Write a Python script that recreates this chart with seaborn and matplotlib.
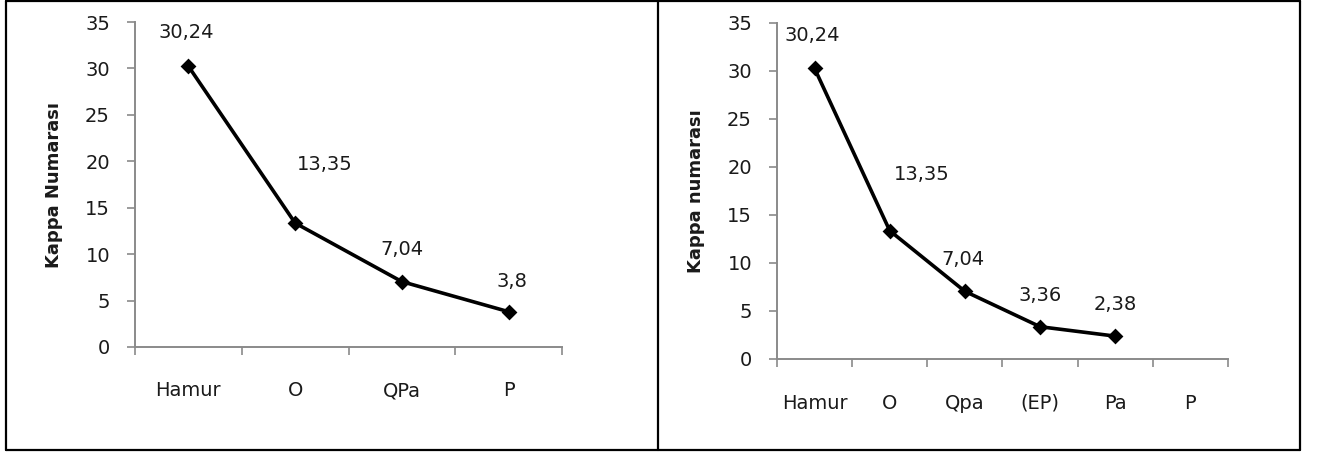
import matplotlib
matplotlib.use("Agg")
import matplotlib.pyplot as plt
from matplotlib.lines import Line2D
from matplotlib.ticker import FixedLocator, NullFormatter
import seaborn as sns
import pandas as pd

# Kappa number after each bleaching stage
left_stages = ["Hamur", "O", "QPa", "P"]
left_kappa = [30.24, 13.35, 7.04, 3.8]
left_labels = ["30,24", "13,35", "7,04", "3,8"]

right_stages = ["Hamur", "O", "Qpa", "(EP)", "Pa", "P"]
right_measured = ["Hamur", "O", "Qpa", "(EP)", "Pa"]
right_kappa = [30.24, 13.35, 7.04, 3.36, 2.38]
right_labels = ["30,24", "13,35", "7,04", "3,36", "2,38"]

y_ticks = [0, 5, 10, 15, 20, 25, 30, 35]

sns.set_theme(style="white")
plt.rcParams["font.family"] = ["DejaVu Sans"]

W, H = 1317, 454
fig = plt.figure(figsize=(W / 100, H / 100), dpi=100)

TEXT = "#1a1a1a"
AXIS = "#8a8a8a"


def px_rect(x0, x1, y_top, y_bot):
    return [x0 / W, 1 - y_bot / H, (x1 - x0) / W, (y_bot - y_top) / H]


def panel(rect, stages, measured, kappa, labels, ylabel, offsets, xpad):
    ax = fig.add_axes(rect)
    df = pd.DataFrame({"stage": measured, "kappa": kappa})
    sns.pointplot(data=df, x="stage", y="kappa", order=stages, color="black",
                  markers="D", linestyles="-", errorbar=None,
                  markersize=6, linewidth=2.6, ax=ax)
    n = len(stages)
    ax.set_xlim(-0.5, n - 0.5)
    ax.set_ylim(0, 35)
    ax.set_yticks(y_ticks)
    ax.set_yticklabels([str(v) for v in y_ticks])
    ax.set_xticks(range(n))
    ax.set_xticklabels(stages)
    ax.xaxis.set_minor_locator(FixedLocator([i - 0.5 for i in range(n + 1)]))
    ax.xaxis.set_minor_formatter(NullFormatter())
    ax.tick_params(axis="x", which="major", length=0, pad=xpad,
                   labelsize=14, labelcolor=TEXT)
    ax.tick_params(axis="x", which="minor", bottom=True, length=6,
                   width=1.2, color=AXIS, direction="out")
    ax.tick_params(axis="y", left=True, length=6, width=1.2, color=AXIS,
                   direction="out", pad=12, labelsize=14, labelcolor=TEXT)
    for side in ("top", "right"):
        ax.spines[side].set_visible(False)
    for side in ("left", "bottom"):
        ax.spines[side].set_color(AXIS)
        ax.spines[side].set_linewidth(1.4)
    ax.set_xlabel("")
    ax.set_ylabel(ylabel, fontsize=13, fontweight="bold", color=TEXT,
                  labelpad=16)
    ax.grid(False)
    ax.patch.set_alpha(0)
    for i, (v, lab) in enumerate(zip(kappa, labels)):
        dx, dy = offsets[i]
        ax.annotate(lab, (i, v), xytext=(dx, dy), textcoords="offset pixels",
                    ha="center", va="center", fontsize=14, color=TEXT)
    return ax


panel(px_rect(135, 562, 22, 347), left_stages, left_stages, left_kappa,
      left_labels, "Kappa Numarası",
      [(-2, 34), (30, 59), (0, 32), (3, 30)], xpad=24.5)

panel(px_rect(777, 1228, 22.7, 359), right_stages, right_measured, right_kappa,
      right_labels, "Kappa numarası",
      [(-2, 33), (32, 56), (-2, 32), (0, 31), (0, 32)], xpad=25)

# Outer frame and the divider between the two charts
frame_kw = dict(color="black", linewidth=1.6, transform=fig.transFigure)
x_left, x_mid, x_right = 5.5 / W, 658 / W, 1300 / W
y_top, y_bot = 1 - 0.8 / H, 1 - 450 / H
fig.add_artist(Line2D([x_left, x_right], [y_top, y_top], **frame_kw))
fig.add_artist(Line2D([x_left, x_right], [y_bot, y_bot], **frame_kw))
fig.add_artist(Line2D([x_left, x_left], [y_bot, y_top], **frame_kw))
fig.add_artist(Line2D([x_mid, x_mid], [y_bot, y_top], **frame_kw))
fig.add_artist(Line2D([x_right, x_right], [y_bot, y_top], **frame_kw))

fig.savefig("out.png", dpi=100, facecolor="white")
